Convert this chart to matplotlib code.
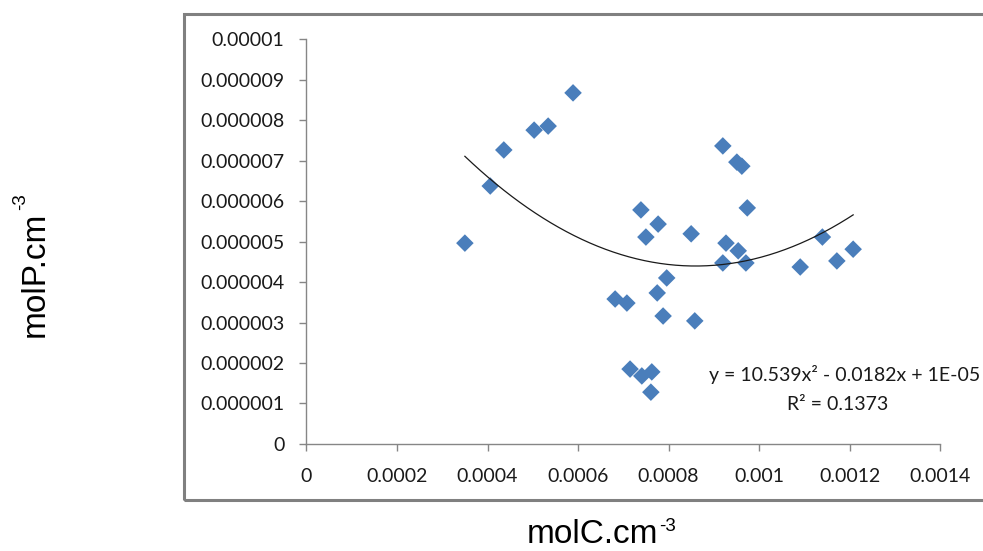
import matplotlib.pyplot as plt  # Plotting
import numpy as np  # Trendline fit
from matplotlib.patches import Rectangle  # Outer chart frame

# Carbon vs phosphorus concentrations
mol_c = [0.000350, 0.000406, 0.000436, 0.000503, 0.000534, 0.000589,
         0.000682, 0.000708, 0.000715, 0.000741, 0.000763, 0.000761,
         0.000775, 0.000796, 0.000788, 0.000858, 0.000739, 0.000750,
         0.000777, 0.000850, 0.000920, 0.000951, 0.000962, 0.000974,
         0.000927, 0.000954, 0.000920, 0.000971, 0.001091, 0.001140,
         0.001172, 0.001208]
mol_p = [4.96e-6, 6.37e-6, 7.26e-6, 7.75e-6, 7.85e-6, 8.67e-6,
         3.58e-6, 3.48e-6, 1.85e-6, 1.68e-6, 1.78e-6, 1.28e-6,
         3.73e-6, 4.10e-6, 3.16e-6, 3.04e-6, 5.78e-6, 5.11e-6,
         5.43e-6, 5.19e-6, 7.36e-6, 6.96e-6, 6.86e-6, 5.83e-6,
         4.96e-6, 4.77e-6, 4.47e-6, 4.47e-6, 4.37e-6, 5.11e-6,
         4.52e-6, 4.81e-6]

x_ticks = [0, 0.0002, 0.0004, 0.0006, 0.0008, 0.001, 0.0012, 0.0014]
x_tick_labels = ["0", "0.0002", "0.0004", "0.0006", "0.0008", "0.001", "0.0012", "0.0014"]
y_ticks = [0, 1e-6, 2e-6, 3e-6, 4e-6, 5e-6, 6e-6, 7e-6, 8e-6, 9e-6, 1e-5]
y_tick_labels = ["0", "0.000001", "0.000002", "0.000003", "0.000004", "0.000005",
                 "0.000006", "0.000007", "0.000008", "0.000009", "0.00001"]

equation_text = "y = 10.539x\u00b2 - 0.0182x + 1E-05"
r2_text = "R\u00b2 = 0.1373"

fig = plt.figure(figsize=(9.83, 5.51), dpi=100)
ax = fig.add_axes([0.3118, 0.1942, 0.6445, 0.735])

# Grey frame around the chart area (right side runs off the canvas)
fig.patches.append(Rectangle((184 / 983, 1 - 500 / 551), 840 / 983, 486 / 551,
                             transform=fig.transFigure, fill=False,
                             edgecolor="#808080", linewidth=2.2, zorder=0))

ax.scatter(mol_c, mol_p, marker="D", s=80, color="#4A7EBB", edgecolors="none", zorder=3)

# Second order polynomial trendline
coef = np.polyfit(mol_c, mol_p, 2)
xs = np.linspace(min(mol_c), max(mol_c), 200)
ax.plot(xs, np.polyval(coef, xs), color="#1a1a1a", linewidth=0.9, zorder=4)

ax.set_xlim(0, 0.0014)
ax.set_ylim(0, 1e-5)
ax.set_xticks(x_ticks)
ax.set_xticklabels(x_tick_labels)
ax.set_yticks(y_ticks)
ax.set_yticklabels(y_tick_labels)

for side in ["top", "right"]:
    ax.spines[side].set_visible(False)
for side in ["left", "bottom"]:
    ax.spines[side].set_color("#868686")
    ax.spines[side].set_linewidth(1.0)

ax.tick_params(axis="both", direction="out", length=5, width=1.0, color="#868686",
               labelsize=14, labelcolor="#1a1a1a")
ax.tick_params(axis="x", pad=12)
ax.tick_params(axis="y", pad=11)
for lab in ax.get_xticklabels() + ax.get_yticklabels():
    lab.set_family("Lato")

# Trendline equation, placed in pixels (origin bottom-left)
ax.text(845, 551 - 375, equation_text, transform=None, fontsize=14, family="Lato",
        color="#1a1a1a", ha="center", va="center")
ax.text(838, 551 - 404, r2_text, transform=None, fontsize=14, family="Lato",
        color="#1a1a1a", ha="center", va="center")

# Axis titles with a small "-3" superscript glued on (pixel coords, origin bottom-left)
xt = fig.text(592, 551 - 543, "molC.cm", transform=None, fontsize=24,
              family="Liberation Sans", ha="center", va="baseline")
yt = fig.text(44, 551 - 274, "molP.cm", transform=None, fontsize=24, rotation=90,
              rotation_mode="anchor", family="Liberation Sans", ha="center", va="baseline")
fig.canvas.draw()
renderer = fig.canvas.get_renderer()
bx = xt.get_window_extent(renderer)
fig.text(bx.x1 + 1, 551 - 518, "-3", transform=None, fontsize=13.5,
         family="Liberation Sans", ha="left", va="top")
by = yt.get_window_extent(renderer)
fig.text(12, by.y1 + 1, "-3", transform=None, fontsize=13.5, rotation=90,
         rotation_mode="anchor", family="Liberation Sans", ha="left", va="top")

fig.savefig("out.png", dpi=100)
